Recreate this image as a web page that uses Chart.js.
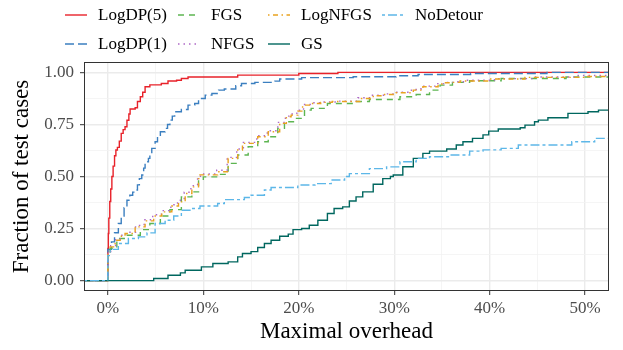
<!DOCTYPE html>
<html>
<head>
<meta charset="utf-8">
<script src="https://cdn.jsdelivr.net/npm/chart.js@4.4.1/dist/chart.umd.min.js"></script>
<style>
  body { margin: 0; background: #fff; }
  canvas { display: block; }
</style>
</head>
<body>
<canvas id="diagram" width="623" height="350"></canvas>
<script>
// tick labels
const xTicks = [0, 5, 10, 15, 20, 25, 30, 35, 40, 45, 50];
const yTicks = [0, 0.125, 0.25, 0.375, 0.5, 0.625, 0.75, 0.875, 1];

// ECDF step points (x = overhead in %, y = fraction)
const logdp5X = [-2.5, 0, 0.05, 0.1, 0.2, 0.3, 0.42, 0.55, 0.7, 0.84, 1.0, 1.2, 1.4, 1.6, 1.8, 2.0, 2.2, 2.33, 2.86, 3.1, 3.4, 3.65, 3.9, 4.4, 5.1, 5.6, 6.3, 7.2, 7.7, 8.4, 13.6, 20, 24.1, 52.5];
const logdp5Y = [0, 0.154, 0.226, 0.3, 0.38, 0.44, 0.5, 0.55, 0.6, 0.627, 0.64, 0.67, 0.707, 0.725, 0.739, 0.77, 0.8, 0.824, 0.83, 0.86, 0.883, 0.905, 0.931, 0.94, 0.94, 0.947, 0.959, 0.962, 0.971, 0.978, 0.987, 0.995, 1.0, 1.0];

const logdp1X = [-2.5, 0, 0.38, 0.7, 1.1, 1.4, 1.7, 2.0, 2.3, 2.6, 2.86, 3.1, 3.3, 3.55, 3.75, 3.9, 4.25, 4.4, 4.6, 4.95, 5.2, 5.5, 6.0, 6.25, 6.5, 6.75, 7.0, 7.7, 8.4, 9.1, 9.5, 10.2, 10.9, 11.6, 12.2, 13.4, 14.0, 15.4, 17.5, 18.0, 20.3, 25.7, 30.2, 32.5, 38, 46, 52.5];
const logdp1Y = [0, 0.15, 0.186, 0.23, 0.274, 0.31, 0.35, 0.386, 0.41, 0.425, 0.435, 0.46, 0.49, 0.507, 0.54, 0.571, 0.587, 0.61, 0.635, 0.667, 0.69, 0.715, 0.731, 0.75, 0.771, 0.79, 0.811, 0.822, 0.843, 0.851, 0.875, 0.891, 0.899, 0.915, 0.92, 0.936, 0.947, 0.952, 0.958, 0.968, 0.975, 0.979, 0.984, 0.99, 0.995, 1.0, 1.0];

const fgsX = [-2.5, 0, 0.24, 0.94, 1.8, 3.4, 4.4, 5.5, 6.5, 7.7, 8.8, 9.5, 10.0, 11.5, 12.6, 13.6, 14.7, 15.7, 16.8, 17.8, 18.5, 19.6, 20.6, 21.3, 23.0, 25.7, 27.4, 30.6, 32.3, 33.7, 34.8, 36.1, 37.9, 41.2, 48, 52.5];
const fgsY = [0, 0.12, 0.155, 0.202, 0.218, 0.245, 0.274, 0.31, 0.341, 0.402, 0.426, 0.483, 0.498, 0.51, 0.563, 0.603, 0.643, 0.667, 0.691, 0.731, 0.763, 0.779, 0.819, 0.827, 0.851, 0.86, 0.87, 0.883, 0.894, 0.915, 0.939, 0.952, 0.96, 0.971, 0.978, 0.978];

const nfgsX = [-2.5, 0, 0.3, 0.8, 1.3, 1.9, 2.9, 3.8, 4.7, 5.6, 6.6, 7.3, 8.0, 8.7, 9.4, 9.7, 11.4, 12.5, 13.5, 14.2, 15.6, 16.7, 17.8, 18.6, 19.3, 19.8, 20.5, 21.4, 22.2, 24.0, 26.2, 27.6, 29.0, 30.0, 31.8, 32.8, 34.4, 35.2, 36.3, 37.5, 40.5, 44.5, 49, 52.5];
const nfgsY = [0, 0.14, 0.168, 0.2, 0.218, 0.232, 0.265, 0.292, 0.316, 0.336, 0.364, 0.386, 0.424, 0.456, 0.494, 0.512, 0.53, 0.592, 0.632, 0.664, 0.696, 0.72, 0.76, 0.79, 0.8, 0.818, 0.846, 0.854, 0.858, 0.862, 0.878, 0.89, 0.897, 0.905, 0.918, 0.934, 0.946, 0.952, 0.955, 0.962, 0.97, 0.978, 0.985, 0.985];

const lognfgsX = [-2.5, 0, 0.24, 0.76, 1.29, 1.8, 2.86, 3.9, 4.8, 5.65, 6.7, 7.4, 8.1, 8.8, 9.5, 9.65, 11.5, 12.6, 13.6, 14.1, 15.7, 16.8, 18.0, 18.7, 19.2, 19.9, 20.4, 21.3, 22.3, 23.5, 26.4, 27.8, 28.8, 30.2, 32.0, 33.0, 34.6, 35.0, 36.1, 36.9, 40.0, 43.7, 50, 52.5];
const lognfgsY = [0, 0.13, 0.162, 0.194, 0.213, 0.226, 0.258, 0.287, 0.31, 0.33, 0.358, 0.378, 0.418, 0.45, 0.49, 0.508, 0.523, 0.587, 0.627, 0.659, 0.691, 0.715, 0.755, 0.787, 0.795, 0.814, 0.843, 0.851, 0.856, 0.86, 0.875, 0.888, 0.894, 0.902, 0.915, 0.931, 0.944, 0.95, 0.952, 0.959, 0.968, 0.976, 0.98, 0.98];

const nodetourX = [-2.5, 0, 0.24, 1.1, 2.15, 3.2, 4.1, 4.95, 6.0, 6.9, 7.7, 8.8, 9.65, 11.5, 12.2, 14.3, 15.0, 16.4, 17.1, 19.9, 21.7, 23.4, 24.8, 25.3, 27.4, 29.2, 30.6, 32.3, 33.7, 35.8, 37.9, 39.3, 41.2, 43.0, 48.6, 51.0, 52.5];
const nodetourY = [0, 0.12, 0.15, 0.178, 0.202, 0.21, 0.229, 0.274, 0.29, 0.31, 0.338, 0.346, 0.358, 0.37, 0.389, 0.399, 0.41, 0.435, 0.447, 0.459, 0.466, 0.483, 0.5, 0.514, 0.538, 0.546, 0.571, 0.587, 0.595, 0.603, 0.622, 0.628, 0.635, 0.651, 0.667, 0.683, 0.683];

const gsX = [-2.5, 4.8, 6.3, 7.6, 8.1, 9.8, 11.0, 12.6, 13.6, 14.1, 15.0, 15.7, 16.4, 17.1, 18.0, 18.9, 19.4, 20.3, 21.1, 22.0, 23.0, 23.7, 24.6, 25.3, 26.0, 26.7, 27.8, 28.8, 29.6, 29.9, 30.9, 32.0, 33.0, 33.7, 35.5, 36.5, 37.2, 38.2, 39.3, 39.9, 40.9, 43.2, 43.7, 44.7, 45.1, 46.1, 48.2, 50.3, 51.4, 52.5];
const gsY = [0, 0.01, 0.026, 0.037, 0.05, 0.066, 0.082, 0.09, 0.114, 0.13, 0.139, 0.159, 0.178, 0.194, 0.213, 0.223, 0.245, 0.25, 0.266, 0.29, 0.322, 0.346, 0.354, 0.382, 0.402, 0.426, 0.463, 0.49, 0.5, 0.507, 0.547, 0.587, 0.611, 0.622, 0.632, 0.651, 0.667, 0.683, 0.7, 0.718, 0.728, 0.734, 0.747, 0.763, 0.771, 0.782, 0.803, 0.811, 0.819, 0.819];

// legend layout as in the picture (column-major, 2 rows)
const legendRend = [['LogDP(5)', 'LogDP(1)'], ['FGS', 'NFGS'], ['LogNFGS', 'GS'], ['NoDetour']];

const betu = 'Liberation Serif, Times New Roman, serif';

function pontok(xs, ys) {
    return xs.map((x, i) => ({ x: x, y: ys[i] }));
}

function sorozat(nev, xs, ys, szin, szaggatas) {
    return {
        label: nev,
        data: pontok(xs, ys),
        borderColor: szin,
        backgroundColor: szin,
        borderWidth: 1.4,
        borderDash: szaggatas,
        stepped: true,
        pointRadius: 0,
        fill: false
    };
}

// first dataset ends up on top
const adatsorok = [
    sorozat('NoDetour', nodetourX, nodetourY, '#5DB7E8', [3, 3, 9, 3]),
    sorozat('GS', gsX, gsY, '#00675F', []),
    sorozat('LogNFGS', lognfgsX, lognfgsY, '#E9A21F', [1.5, 3.5, 5, 3.5]),
    sorozat('NFGS', nfgsX, nfgsY, '#AE68C6', [1.5, 4]),
    sorozat('FGS', fgsX, fgsY, '#5DB551', [6, 5]),
    sorozat('LogDP(1)', logdp1X, logdp1Y, '#3B7FC0', [9, 4]),
    sorozat('LogDP(5)', logdp5X, logdp5Y, '#E8222A', [])
];

const keretEsJelmagyarazat = {
    id: 'keret',
    afterDraw(chart) {
        const ctx = chart.ctx;
        const a = chart.chartArea;
        ctx.save();
        ctx.strokeStyle = '#333333';
        ctx.lineWidth = 1;
        ctx.strokeRect(Math.round(a.left) + 0.5, Math.round(a.top) + 0.5,
            Math.round(a.right - a.left) - 1, Math.round(a.bottom - a.top) - 1);

        const oszlopX = [65, 178, 268, 382];
        const sorY = [15, 44];
        ctx.font = '17px ' + betu;
        ctx.textBaseline = 'middle';
        ctx.fillStyle = '#000';
        legendRend.forEach((oszlop, c) => {
            oszlop.forEach((nev, r) => {
                const ds = chart.data.datasets.find(d => d.label === nev);
                const x = oszlopX[c], y = sorY[r];
                ctx.strokeStyle = ds.borderColor;
                ctx.lineWidth = 1.4;
                ctx.setLineDash(ds.borderDash);
                ctx.beginPath();
                ctx.moveTo(x, y);
                ctx.lineTo(x + 22, y);
                ctx.stroke();
                ctx.setLineDash([]);
                ctx.fillText(nev, x + 33, y + 1);
            });
        });
        ctx.restore();
    }
};

const fo = (v, lepes) => Math.abs(v / lepes - Math.round(v / lepes)) < 1e-6;

new Chart(document.getElementById('diagram').getContext('2d'), {
    type: 'line',
    data: { datasets: adatsorok },
    options: {
        responsive: false,
        animation: false,
        devicePixelRatio: 1,
        layout: { padding: { top: 62, right: 14, left: 0, bottom: 0 } },
        plugins: {
            legend: { display: false },
            tooltip: { enabled: false }
        },
        scales: {
            x: {
                type: 'linear',
                min: -2.5,
                max: 52.5,
                afterBuildTicks: s => { s.ticks = xTicks.map(v => ({ value: v })); },
                afterFit: s => { s.height = 59; },
                border: { display: false },
                grid: {
                    color: c => fo(c.tick.value, 10) ? '#EBEBEB' : '#F2F2F2',
                    lineWidth: c => fo(c.tick.value, 10) ? 1.4 : 0.8,
                    tickColor: c => fo(c.tick.value, 10) ? '#333333' : 'rgba(0,0,0,0)',
                    tickLength: 4,
                    tickWidth: 1
                },
                ticks: {
                    autoSkip: false,
                    maxRotation: 0,
                    padding: 3,
                    color: '#4D4D4D',
                    font: { family: betu, size: 17 },
                    callback: v => fo(v, 10) ? v + '%' : ''
                },
                title: {
                    display: true,
                    text: 'Maximal overhead',
                    color: '#000',
                    font: { family: betu, size: 23 },
                    padding: { top: 0, bottom: 4 }
                }
            },
            y: {
                type: 'linear',
                min: -0.05,
                max: 1.05,
                afterBuildTicks: s => { s.ticks = yTicks.map(v => ({ value: v })); },
                afterFit: s => { s.width = 84; },
                border: { display: false },
                grid: {
                    color: c => fo(c.tick.value, 0.25) ? '#EBEBEB' : '#F2F2F2',
                    lineWidth: c => fo(c.tick.value, 0.25) ? 1.4 : 0.8,
                    tickColor: c => fo(c.tick.value, 0.25) ? '#333333' : 'rgba(0,0,0,0)',
                    tickLength: 4,
                    tickWidth: 1
                },
                ticks: {
                    autoSkip: false,
                    padding: 6,
                    color: '#4D4D4D',
                    font: { family: betu, size: 17 },
                    callback: v => fo(v, 0.25) ? v.toFixed(2) : ''
                },
                title: {
                    display: true,
                    text: 'Fraction of test cases',
                    color: '#000',
                    font: { family: betu, size: 23 },
                    padding: { top: 8, bottom: 0 }
                }
            }
        }
    },
    plugins: [keretEsJelmagyarazat]
});
</script>
</body>
</html>
